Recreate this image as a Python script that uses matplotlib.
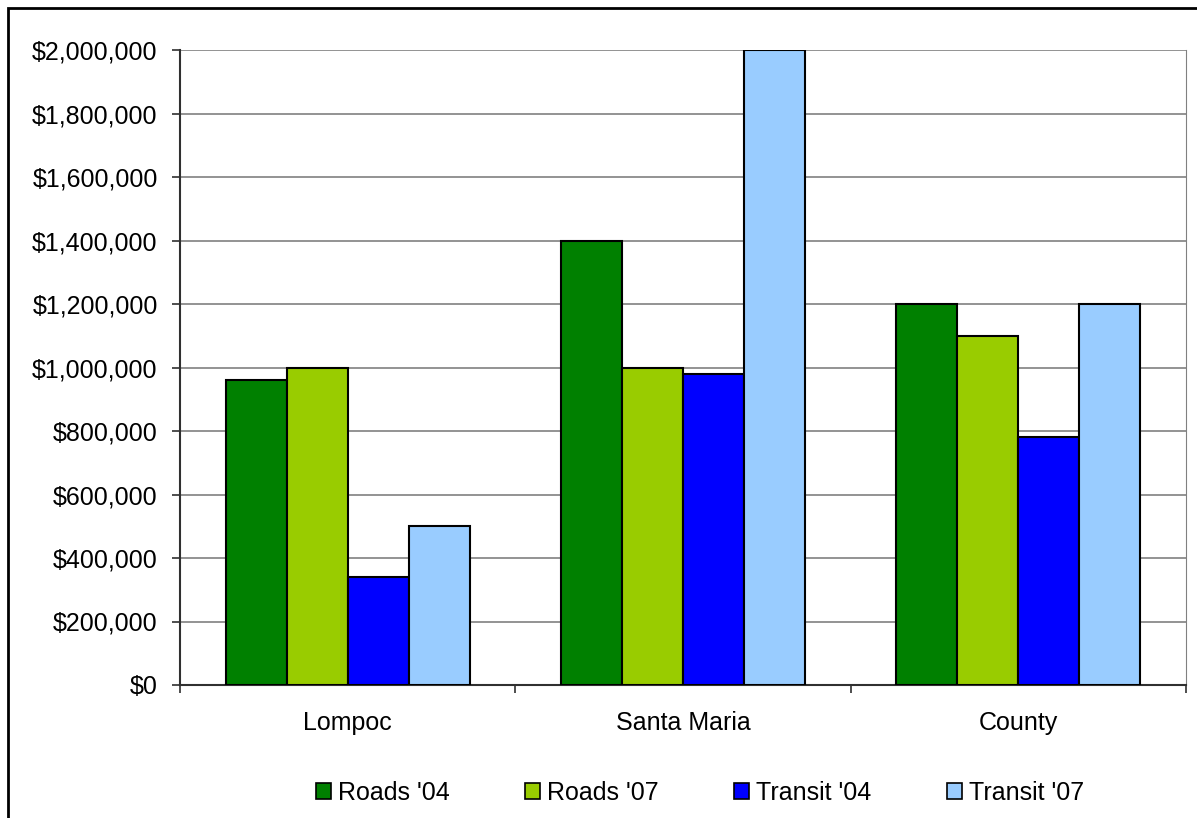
import numpy as np
import matplotlib.pyplot as plt
from matplotlib.patches import Rectangle
from matplotlib.ticker import FuncFormatter, MultipleLocator

plt.rcParams['font.family'] = ['Liberation Sans', 'DejaVu Sans']

regions = ["Lompoc", "Santa Maria", "County"]
series = ["Roads '04", "Roads '07", "Transit '04", "Transit '07"]
roads_04 = [960000, 1400000, 1200000]
roads_07 = [1000000, 1000000, 1100000]
transit_04 = [340000, 980000, 780000]
transit_07 = [500000, 2000000, 1200000]
colors = ["#008000", "#99CC00", "#0000FF", "#99CCFF"]

fig = plt.figure(figsize=(11.97, 8.18), dpi=100)
ax = fig.add_axes([180 / 1197, 1 - 685 / 818, 1006 / 1197, 635 / 818])

# four bars per region, excel-style 150% gap
width = 1 / 5.5
x = np.arange(len(regions))
for i, (name, vals) in enumerate(zip(series, [roads_04, roads_07, transit_04, transit_07])):
    ax.bar(x + (i - 1.5) * width, vals, width, color=colors[i], edgecolor="black",
           linewidth=1.5, label=name, zorder=3)

ax.set_xlim(-0.5, len(regions) - 0.5)
ax.set_ylim(0, 2000000)
ax.yaxis.set_major_locator(MultipleLocator(200000))
ax.yaxis.set_major_formatter(FuncFormatter(lambda v, p: f"${v:,.0f}"))
ax.grid(axis="y", color="#808080", linewidth=1.2, zorder=0)

ax.set_xticks(x)
ax.set_xticklabels(regions)
ax.set_xticks(np.arange(len(regions) + 1) - 0.5, minor=True)
ax.tick_params(axis="x", which="major", length=0, pad=19, labelsize=18)
ax.tick_params(axis="x", which="minor", length=6, width=1.2, color="#303030")
ax.tick_params(axis="y", length=6, width=1.2, color="#303030", labelsize=18, pad=10)

for side in ["left", "bottom"]:
    ax.spines[side].set_color("#303030")
    ax.spines[side].set_linewidth(1.5)
ax.spines["right"].set_color("#808080")
ax.spines["top"].set_visible(False)
ax.set_axisbelow(True)

fig.legend(loc="center", bbox_to_anchor=(700 / 1197, 1 - 793 / 818), ncol=4,
           frameon=False, fontsize=18, handlelength=0.6, handleheight=0.6,
           handletextpad=0.3, columnspacing=3.0, borderpad=0)
for h in fig.legends[0].legend_handles:
    h.set_linewidth(1.2)

# outer chart frame
fig.patches.append(Rectangle((8 / 1197, -0.1), 1.2, 1.1 - 8 / 818,
                             transform=fig.transFigure, fill=False,
                             edgecolor="black", linewidth=2))

fig.savefig("out.png", dpi=100)
